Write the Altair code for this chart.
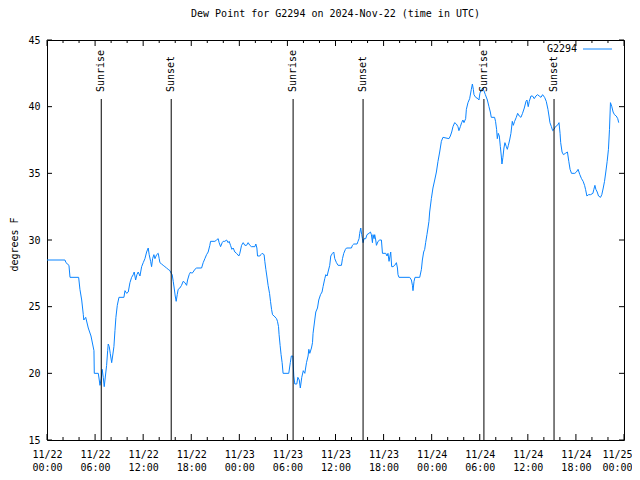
import altair as alt
import pandas as pd

TITLE = "Dew Point for G2294 on 2024-Nov-22 (time in UTC)"
SERIES_NAME = "G2294"
Y_TITLE = "degrees F"

# hours after 2024-11-22 00:00 UTC
hours = [
    0.00, 2.24, 2.37, 2.74, 2.87, 3.95, 4.11, 4.33, 4.53, 4.59, 4.83, 5.15, 5.49, 5.86, 5.90, 6.40,
    6.52, 6.61, 6.77, 6.89, 7.02, 7.14, 7.29, 7.44, 7.57, 7.64, 7.77, 7.89, 8.07, 8.19, 8.35, 8.48,
    8.60, 8.77, 8.98, 9.60, 9.73, 9.94, 10.14, 10.35, 10.56, 10.76, 10.88, 11.06, 11.22, 11.38, 11.60,
    11.81, 12.01, 12.22, 12.43, 12.63, 12.75, 12.93, 13.05, 13.18, 13.34, 13.47, 13.68, 13.88, 14.00,
    14.09, 14.30, 14.50, 14.71, 14.92, 15.12, 15.34, 15.50, 15.62, 15.75, 15.87, 16.00, 16.12, 16.25,
    16.37, 16.58, 16.79, 16.99, 17.21, 17.42, 17.54, 17.74, 17.92, 18.08, 18.24, 18.45, 18.67, 19.29,
    19.49, 19.70, 19.91, 20.11, 20.32, 20.41, 20.95, 21.16, 21.36, 21.48, 21.66, 21.86, 21.98, 22.19,
    22.41, 22.60, 22.73, 22.90, 23.07, 23.23, 23.44, 23.65, 23.94, 24.06, 24.28, 24.48, 24.69, 24.90,
    25.10, 25.31, 25.52, 25.94, 26.06, 26.19, 26.27, 26.56, 26.68, 26.84, 27.09, 27.18, 27.31, 27.43,
    27.59, 27.77, 27.89, 28.02, 28.14, 28.34, 28.64, 28.76, 28.89, 28.96, 29.09, 29.21, 29.34, 29.46,
    30.17, 30.36, 30.49, 30.67, 30.80, 30.92, 31.17, 31.30, 31.48, 31.61, 31.79, 31.98, 32.17, 32.38,
    32.58, 32.67, 32.79, 33.00, 33.13, 33.20, 33.41, 33.54, 33.75, 33.91, 34.13, 34.32, 34.45, 34.66,
    34.79, 34.95, 35.07, 35.28, 35.41, 35.62, 35.78, 35.91, 36.12, 36.32, 36.74, 36.87, 37.03, 37.24,
    37.37, 37.99, 38.11, 38.28, 38.69, 38.81, 38.94, 39.02, 39.15, 39.27, 39.36, 39.44, 39.56, 39.77,
    39.93, 40.18, 40.36, 40.48, 40.61, 40.68, 40.81, 40.89, 41.02, 41.11, 41.31, 41.52, 41.73, 41.86,
    42.27, 42.43, 42.55, 42.68, 42.80, 42.89, 43.01, 43.18, 43.39, 43.60, 43.73, 43.80, 43.92, 45.26,
    45.47, 45.60, 45.67, 45.80, 45.92, 46.51, 46.72, 46.84, 47.00, 47.13, 47.25, 47.41, 47.54, 47.66,
    47.75, 47.96, 48.16, 48.38, 48.59, 48.79, 49.00, 49.21, 49.41, 50.16, 50.33, 50.50, 50.66, 50.87,
    51.08, 51.28, 51.40, 51.58, 51.74, 51.90, 52.03, 52.24, 52.33, 52.53, 52.74, 52.95, 53.08, 53.20,
    53.28, 53.49, 53.78, 53.90, 54.02, 54.20, 54.40, 54.52, 54.70, 54.95, 55.15, 55.32, 55.44, 55.85,
    55.97, 56.10, 56.19, 56.31, 56.44, 56.57, 56.69, 56.77, 56.89, 57.02, 57.14, 57.32, 57.44, 57.57,
    57.73, 57.89, 58.06, 58.19, 58.35, 58.56, 58.73, 58.93, 59.14, 59.34, 59.56, 59.77, 59.89, 60.05,
    60.18, 60.39, 60.59, 60.80, 61.01, 61.21, 61.42, 61.64, 61.84, 62.09, 62.30, 62.51, 62.64, 62.76,
    62.94, 63.10, 63.27, 63.44, 63.69, 63.89, 64.02, 64.10, 64.27, 64.44, 64.69, 64.94, 65.11, 65.27,
    65.45, 65.86, 66.06, 66.27, 66.49, 66.70, 66.90, 67.08, 67.20, 67.37, 67.58, 67.83, 68.12, 68.24,
    68.37, 68.49, 68.66, 68.82, 69.07, 69.23, 69.41, 69.57, 69.73, 69.90, 70.06, 70.19, 70.31, 70.48,
    70.64, 70.81, 71.03, 71.22, 71.34,
]
dew_f = [
    28.5, 28.5, 28.3, 28.1, 27.2, 27.2, 26.3, 25.5, 24.4, 24.0, 24.2, 23.4, 22.8, 21.7, 20.0, 20.0,
    19.5, 19.1, 19.6, 20.3, 19.7, 19.0, 19.8, 20.6, 21.7, 22.2, 22.0, 21.5, 20.8, 21.3, 22.0, 23.2,
    24.2, 25.1, 25.7, 25.7, 26.2, 26.0, 26.1, 26.8, 27.2, 27.4, 27.6, 27.0, 27.4, 27.6, 27.3,
    28.0, 28.3, 28.6, 29.1, 29.4, 28.9, 28.4, 28.0, 28.6, 28.9, 28.6, 28.9, 29.0, 28.6,
    28.3, 28.2, 28.1, 28.0, 27.9, 27.8, 27.7, 27.5, 27.4, 26.9, 26.4, 25.8, 25.4, 25.9,
    26.3, 26.4, 26.6, 26.9, 26.8, 26.6, 27.0, 27.4, 27.6, 27.5, 27.6, 27.8, 27.9, 27.9,
    28.3, 28.6, 28.9, 29.1, 29.6, 29.9, 29.9, 30.0, 30.1, 29.8, 29.5, 29.8, 29.9, 29.9,
    30.0, 29.8, 29.9, 29.6, 29.3, 29.4, 29.1, 29.0, 28.8, 29.0, 29.6, 29.8, 29.6, 29.6,
    29.8, 29.6, 29.5, 29.5, 29.7, 29.4, 28.8, 28.8, 28.9, 29.0, 28.9, 28.4, 27.8, 27.3,
    26.6, 26.0, 25.4, 24.8, 24.4, 24.3, 24.1, 23.9, 23.5, 22.9, 22.1, 21.4, 20.8, 20.0,
    20.0, 20.8, 21.3, 21.3, 19.8, 19.2, 19.2, 19.7, 19.5, 18.9, 19.7, 20.2, 20.0, 20.8,
    21.3, 21.8, 21.5, 21.9, 22.3, 23.0, 24.0, 24.6, 24.9, 25.5, 25.9, 26.1, 26.5, 27.1,
    27.4, 27.3, 27.6, 28.1, 28.8, 29.0, 29.1, 28.6, 28.3, 28.1, 28.1, 28.6, 29.0, 29.3,
    29.4, 29.4, 29.6, 29.7, 29.7, 29.9, 30.1, 30.5, 30.9, 30.4, 30.1, 29.8, 30.1, 30.1,
    30.4, 30.5, 30.6, 30.4, 29.8, 30.4, 30.1, 30.4, 30.0, 29.6, 29.9, 30.0, 30.0, 29.0,
    29.0, 28.8, 29.0, 28.4, 28.8, 29.1, 28.0, 28.0, 28.1, 28.3, 27.9, 27.4, 27.2, 27.2,
    27.0, 26.6, 26.2, 26.9, 27.2, 27.2, 27.8, 28.5, 29.1, 29.3, 29.8, 30.4, 30.9, 31.4,
    32.1, 33.1, 33.9, 34.5, 35.1, 35.9, 36.6, 37.4, 37.7, 37.6, 37.8, 38.1, 38.5, 38.8,
    38.7, 38.5, 38.2, 38.5, 38.8, 39.0, 38.8, 39.1, 39.8, 40.3, 40.6, 41.3, 41.7, 41.3,
    40.9, 40.7, 40.6, 40.5, 41.0, 41.3, 41.4, 41.2, 40.9, 40.5, 40.0, 39.6, 39.2, 39.2,
    38.9, 38.3, 37.6, 38.0, 37.8, 37.0, 36.3, 35.7, 36.2, 36.9, 37.3, 37.0, 36.8, 37.1,
    37.5, 38.0, 38.9, 38.6, 38.9, 39.2, 39.5, 39.3, 39.2, 39.5, 39.9, 40.4, 40.5, 40.0,
    40.4, 40.8, 40.8, 40.6, 40.8, 40.9, 40.8, 40.7, 40.9, 40.7, 40.4, 39.8, 39.3, 38.8,
    38.5, 38.2, 38.3, 38.5, 38.6, 38.8, 38.0, 37.3, 36.6, 36.4, 36.5, 36.6, 35.9, 35.3,
    35.0, 35.0, 35.1, 35.3, 34.9, 34.6, 34.4, 34.1, 33.8, 33.3, 33.4, 33.4, 33.5, 33.8,
    34.1, 33.8, 33.6, 33.3, 33.2, 33.4, 33.9, 34.4, 35.1, 35.9, 36.8, 38.3, 40.3, 40.0,
    39.6, 39.4, 39.3, 39.1, 38.8,
]

event_hours = [6.77, 15.50, 30.71, 39.44, 54.52, 63.27]
event_names = ["Sunrise", "Sunset", "Sunrise", "Sunset", "Sunrise", "Sunset"]

x_major_ticks = list(range(0, 73, 6))
x_minor_ticks = [h for h in range(0, 73, 2) if h % 6]
y_ticks = [15, 20, 25, 30, 35, 40, 45]

W, H = 577, 400
FONT = "DejaVu Sans Mono"
LINE_COLOR = "#0a84ff"

df = pd.DataFrame({"h": hours, "dew": dew_f})
ev = pd.DataFrame({"h": event_hours, "name": event_names})
xmaj = pd.DataFrame({"h": x_major_ticks})
xmin = pd.DataFrame({"h": x_minor_ticks})
yt = pd.DataFrame({"dew": y_ticks})
leg = pd.DataFrame({"name": [SERIES_NAME]})

xscale = alt.Scale(domain=[0, 72], nice=False, zero=False)
yscale = alt.Scale(domain=[15, 45], nice=False, zero=False)

label_expr = ("['11/' + (22 + floor(datum.value / 24)), "
              "pad(datum.value % 24, 2, '0', 'left') + ':00']")

line = alt.Chart(df).mark_line(color=LINE_COLOR, strokeWidth=1, clip=True).encode(
    x=alt.X("h:Q", scale=xscale, title=None, axis=alt.Axis(
        values=x_major_ticks, title=None, ticks=False, domain=False, grid=False,
        labelExpr=label_expr, labelPadding=9, labelLineHeight=13, labelFontSize=10,
        labelFont=FONT, labelOverlap=False, labelFlush=False, labelColor="black",
        labelBaseline="top",
        labelOffset={"condition": {"test": "datum.value == 72", "value": -7}, "value": 0})),
    y=alt.Y("dew:Q", scale=yscale, title=Y_TITLE, axis=alt.Axis(
        values=y_ticks, title=Y_TITLE, ticks=False, domain=False, grid=False,
        labelPadding=7, labelFontSize=10, labelFont=FONT, labelColor="black",
        labelOverlap=False, labelFlush=False,
        titleFont=FONT, titleFontSize=10, titleFontWeight="normal", titleColor="black",
        titleX=-33, titleY=204, titleAlign="center", titleBaseline="middle")),
)

ev_rules = alt.Chart(ev).mark_rule(color="black", strokeWidth=1).encode(
    x=alt.X("h:Q", title=None), y=alt.value(59), y2=alt.value(H))
ev_text = alt.Chart(ev).mark_text(angle=270, align="left", baseline="middle",
                                  font=FONT, fontSize=10, color="black").encode(
    x=alt.X("h:Q", title=None), y=alt.value(52), text="name:N")

def xticks(data, length):
    b = alt.Chart(data).mark_rule(color="black").encode(
        x=alt.X("h:Q", title=None), y=alt.value(H), y2=alt.value(H - length))
    t = alt.Chart(data).mark_rule(color="black").encode(
        x=alt.X("h:Q", title=None), y=alt.value(0), y2=alt.value(length))
    return [b, t]

yl = alt.Chart(yt).mark_rule(color="black").encode(
    y=alt.Y("dew:Q", title=Y_TITLE), x=alt.value(0), x2=alt.value(5))
yr = alt.Chart(yt).mark_rule(color="black").encode(
    y=alt.Y("dew:Q", title=Y_TITLE), x=alt.value(W), x2=alt.value(W - 5))

leg_text = alt.Chart(leg).mark_text(align="right", baseline="middle", font=FONT,
                                    fontSize=10, color="black").encode(
    x=alt.value(530), y=alt.value(9), text="name:N")
leg_line = alt.Chart(leg).mark_rule(color=LINE_COLOR, strokeWidth=1).encode(
    x=alt.value(536), x2=alt.value(565), y=alt.value(9))

layers = [line, ev_rules, ev_text] + xticks(xmaj, 6) + xticks(xmin, 3) + [yl, yr, leg_text, leg_line]

chart = alt.layer(*layers).properties(
    width=W, height=H,
    title=alt.TitleParams(TITLE, font=FONT, fontSize=10, fontWeight="normal",
                          color="black", offset=16),
    padding={"left": 39, "top": 32, "right": 8, "bottom": 32},
    autosize=alt.AutoSizeParams(type="none"),
    background="white",
).configure_view(stroke="black", strokeWidth=1)

chart.save("out.html", embed_options={"renderer": "svg", "actions": False})
